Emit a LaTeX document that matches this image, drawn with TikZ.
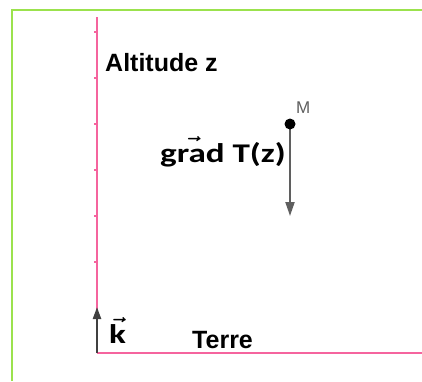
\documentclass[tikz,border=0pt]{standalone}
\usepackage{amsmath}
\usepackage{fontspec}
\setmainfont{Liberation Sans}
\newfontfamily\calfont[FakeStretch=1.3]{Carlito}
\usetikzlibrary{arrows.meta}

\definecolor{rose}{RGB}{245,100,158}
\definecolor{vertcadre}{RGB}{155,226,77}
\definecolor{grisvec}{RGB}{95,95,95}

\begin{document}
\begin{tikzpicture}[x=1pt,y=1pt,
  axe/.style={draw=rose, line width=1.1pt},
  cadre/.style={draw=vertcadre, line width=1.1pt},
  vecteur/.style={draw=grisvec, line width=2pt,
                  -{Triangle[length=14pt,width=9pt]}},
  grand/.style={font=\fontsize{25}{30}\selectfont\bfseries},
  petit/.style={font=\fontsize{17}{20}\selectfont, text=grisvec},
  calib/.style={font=\fontsize{27}{32}\selectfont\calfont\bfseries},
]
\useasboundingbox (0,0) rectangle (422,-381);

% cadre
\draw[cadre] (12,-381) -- (12,-10) -- (422,-10);

% axes
\coordinate (O) at (97,-353);
\coordinate (Zhaut) at (97,-17);
\coordinate (Xfin) at (422,-353);
\draw[axe] (O) -- (Zhaut);
\draw[axe] (O) -- (Xfin);
\foreach \y in {32,78,124,170,216,262}
  \draw[axe] (97,-\y) -- ++(-3,0);

% vecteur k
\coordinate (Kbout) at (97,-307);
\draw[vecteur, draw=black!75, line width=2.2pt,
      -{Triangle[length=12pt,width=8pt]}] (O) -- (Kbout);

% point M et gradient
\coordinate (M) at (290,-124);
\coordinate (Gbout) at (290,-216);
\draw[vecteur] (M) -- (Gbout);
\fill (M) circle (5.5);

% textes
\node[grand, anchor=base west, inner sep=0pt] (alt) at (105,-71) {Altitude z};
\node[grand, anchor=base west, inner sep=0pt] (terre) at (192,-348) {Terre};
\node[petit, anchor=base west, inner sep=0pt] (nomM) at (296,-113) {M};
\node[calib, anchor=base east, inner sep=0pt] (grad) at (286,-162)
  {$\boldsymbol{\vec{\hbox{\calfont\bfseries grad}}}$ T(z)};
\node[calib, anchor=base west, inner sep=0pt] (k) at (109,-343)
  {$\boldsymbol{\vec{\hbox{\calfont\bfseries k}}}$};
\end{tikzpicture}
\end{document}
